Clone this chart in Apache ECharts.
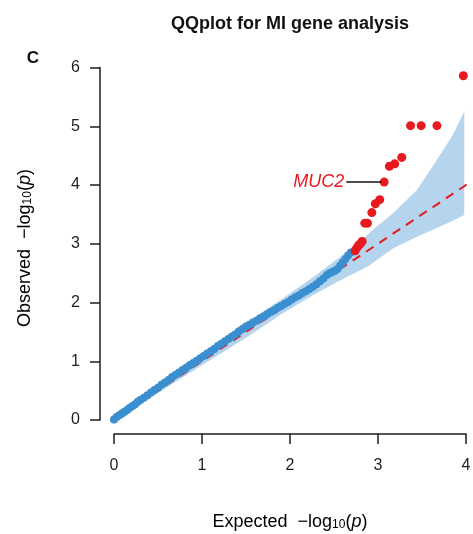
<!DOCTYPE html>
<html>
<head>
<meta charset="utf-8">
<script src="https://cdn.jsdelivr.net/npm/echarts@6/dist/echarts.min.js"></script>
<style>
  html, body { margin: 0; padding: 0; background: #fff; }
  #main { width: 473px; height: 534px; }
</style>
</head>
<body>
<div id="main"></div>
<script>
// observed vs expected -log10(p), genes inside the band
const blueX = [0.00, 0.03, 0.06, 0.09, 0.12, 0.15, 0.18, 0.21, 0.24, 0.27, 0.30, 0.34, 0.38, 0.42, 0.46,
    0.50, 0.54, 0.58, 0.62, 0.66, 0.70, 0.74, 0.78, 0.82, 0.86, 0.90, 0.94, 0.98, 1.02, 1.06,
    1.10, 1.14, 1.18, 1.22, 1.26, 1.30, 1.34, 1.38, 1.42, 1.46, 1.50, 1.54, 1.58, 1.62, 1.66,
    1.70, 1.74, 1.78, 1.82, 1.86, 1.90, 1.94, 1.98, 2.02, 2.06, 2.10, 2.14, 2.18, 2.22, 2.26,
    2.30, 2.34, 2.38, 2.42, 2.45, 2.48, 2.51, 2.54, 2.57, 2.60, 2.63, 2.66, 2.69];
const blueY = [0.01, 0.05, 0.08, 0.11, 0.14, 0.17, 0.21, 0.24, 0.27, 0.31, 0.34, 0.38, 0.42, 0.47, 0.51,
    0.55, 0.60, 0.64, 0.68, 0.73, 0.77, 0.81, 0.85, 0.89, 0.93, 0.97, 1.01, 1.05, 1.09, 1.13,
    1.17, 1.21, 1.26, 1.30, 1.34, 1.38, 1.42, 1.46, 1.51, 1.55, 1.59, 1.62, 1.66, 1.69, 1.73,
    1.76, 1.80, 1.84, 1.87, 1.91, 1.94, 1.98, 2.01, 2.05, 2.09, 2.12, 2.16, 2.19, 2.23, 2.27,
    2.31, 2.36, 2.41, 2.47, 2.50, 2.52, 2.54, 2.57, 2.63, 2.68, 2.74, 2.80, 2.85];

// genes above the band
const redX = [2.74, 2.76, 2.78, 2.80, 2.82, 2.85, 2.88, 2.93, 2.97, 3.02, 3.07, 3.13, 3.19, 3.27, 3.37, 3.49, 3.67, 3.97];
const redY = [2.88, 2.93, 2.97, 3.00, 3.04, 3.35, 3.35, 3.53, 3.68, 3.75, 4.05, 4.32, 4.36, 4.47, 5.01, 5.01, 5.01, 5.86];
const labelGene = 'MUC2';
const labelIndex = 10;

// confidence band
const bandX = [0.00, 0.50, 1.00, 1.50, 1.90, 2.27, 2.57, 2.80, 2.91, 3.17, 3.44, 3.67, 3.85, 3.98];
const bandLo = [0.00, 0.46, 0.93, 1.40, 1.80, 2.13, 2.38, 2.55, 2.64, 2.92, 3.12, 3.27, 3.39, 3.49];
const bandHi = [0.02, 0.56, 1.09, 1.65, 2.05, 2.44, 2.78, 3.03, 3.20, 3.52, 3.91, 4.43, 4.85, 5.25];

// y = x reference
const refX = [-0.16, 4.1];

const xTicks = [0, 1, 2, 3, 4];
const yTicks = [0, 1, 2, 3, 4, 5, 6];

const font = '"Liberation Sans", Arial, sans-serif';
const red = '#e8191f';
const blue = '#3a8fd1';
const ink = '#1e1e1e';

const zip = (xs, ys) => xs.map((x, i) => [x, ys[i]]);

const nameRich = {
    n: { fontSize: 18, lineHeight: 18, verticalAlign: 'bottom', fontFamily: font, color: ink },
    s: { fontSize: 12, lineHeight: 8, verticalAlign: 'bottom', fontFamily: font, color: ink },
    i: { fontSize: 18, lineHeight: 18, verticalAlign: 'bottom', fontStyle: 'italic', fontFamily: font, color: ink },
};
const axisName = (word) => '{n|' + word + '  \u2212log}{s|10}{n|(}{i|p}{n|)}';

const chart = echarts.init(document.getElementById('main'));

const axisCommon = {
    type: 'value',
    interval: 1,
    offset: 14,
    splitLine: { show: false },
    axisLine: { show: true, onZero: false, lineStyle: { color: ink, width: 1.5 } },
    axisTick: { show: true, length: 10, lineStyle: { color: ink, width: 1.5 } },
};

let options = {
    animation: false,
    textStyle: { fontFamily: font },
    grid: {
        left: 114,
        right: 7,
        top: 67.5,
        bottom: 114,
        containLabel: false,
        outerBoundsMode: 'none',
    },
    xAxis: Object.assign({}, axisCommon, {
        min: xTicks[0],
        max: xTicks[xTicks.length - 1],
        axisLabel: { margin: 24, fontSize: 16, color: ink, fontFamily: font },
    }),
    yAxis: Object.assign({}, axisCommon, {
        min: yTicks[0],
        max: yTicks[yTicks.length - 1],
        axisLabel: { margin: 20, fontSize: 16, color: ink, fontFamily: font },
    }),
    graphic: [
        {
            type: 'text', x: 290, y: 24,
            style: { text: 'QQplot for MI gene analysis', align: 'center', verticalAlign: 'middle',
                fontSize: 18, fontWeight: 'bold', fontFamily: font, fill: '#111' },
        },
        {
            type: 'text', x: 33, y: 58,
            style: { text: 'C', align: 'center', verticalAlign: 'middle',
                fontSize: 17, fontWeight: 'bold', fontFamily: font, fill: '#111' },
        },
        {
            type: 'text', x: 290, y: 522,
            style: { text: axisName('Expected'), rich: nameRich, align: 'center', verticalAlign: 'middle' },
        },
        {
            type: 'text', x: 25, y: 248, rotation: Math.PI / 2,
            style: { text: axisName('Observed'), rich: nameRich, align: 'center', verticalAlign: 'middle' },
        },
    ],
    series: [
        {
            type: 'custom',
            silent: true,
            clip: false,
            z: 1,
            data: [[0, 0]],
            renderItem: (params, api) => {
                const pts = bandX.map((x, i) => api.coord([x, bandHi[i]]));
                for (let i = bandX.length - 1; i >= 0; i--) {
                    pts.push(api.coord([bandX[i], bandLo[i]]));
                }
                return { type: 'polygon', shape: { points: pts }, style: { fill: '#b5d5ee' } };
            },
        },
        {
            type: 'line',
            silent: true,
            clip: false,
            z: 2,
            symbol: 'none',
            data: zip(refX, refX),
            lineStyle: { color: red, width: 2, type: [9, 7] },
        },
        {
            type: 'scatter',
            silent: true,
            clip: false,
            z: 3,
            symbolSize: 8,
            itemStyle: { color: blue, opacity: 1 },
            data: zip(blueX, blueY),
        },
        {
            type: 'scatter',
            silent: true,
            clip: false,
            z: 4,
            symbolSize: 9,
            itemStyle: { color: red, opacity: 1 },
            data: zip(redX, redY),
            markLine: {
                silent: true,
                symbol: ['none', 'none'],
                animation: false,
                lineStyle: { color: '#111', width: 1.5, type: 'solid' },
                label: {
                    show: true,
                    position: 'start',
                    distance: 2,
                    formatter: labelGene,
                    color: red,
                    fontSize: 18,
                    fontStyle: 'italic',
                    fontFamily: font,
                },
                data: [[
                    { coord: [redX[labelIndex] - 0.43, redY[labelIndex]] },
                    { coord: [redX[labelIndex] - 0.03, redY[labelIndex]] },
                ]],
            },
        },
    ],
};

chart.setOption(options);
</script>
</body>
</html>
